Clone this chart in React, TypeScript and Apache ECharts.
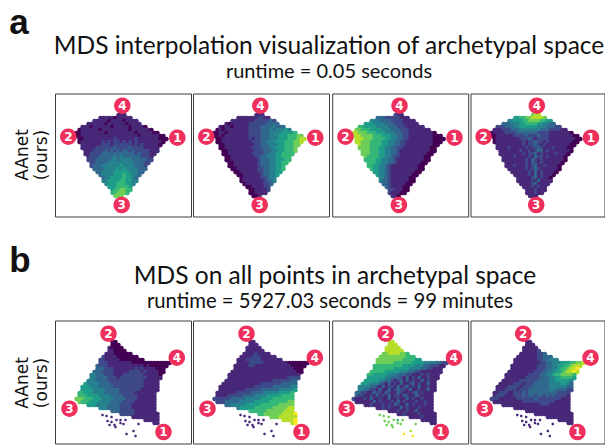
import React, { useEffect, useRef } from "react";
import * as echarts from "echarts";

const viridis = ["#440154", "#482878", "#3e4989", "#31688e", "#26828e", "#1f9e89", "#35b779", "#6ece58", "#b5de2b", "#fde725"];

// Colour level (0-9), one string per row of cells, in a raster of each panel.
const startsA = [14, 8, 6, 4, 2, 1, 0, 0, 1, 1, 2, 2, 3, 3, 4, 4, 5, 5, 6, 7, 8, 9, 9, 10, 11, 12, 12, 13];
const startsB = [13, 13, 12, 12, 11, 10, 9, 9, 8, 8, 7, 6, 6, 5, 4, 3, 3, 2, 2, 1, 2, 5, 9, 13, 16, 20, 24, 27];

const a1 = ["111", "11111011111", "111110111101111", "111111011111101111", "1110111111011111011110", "0111111011111111101111110", "0011111111011111111101111100", "001111111111111111111011111100", "001111111111211111121111111000", "01111111212122121212111111110", "111111122212222221212111110", "11111222222322223222211111", "1112222323232332322222111", "112222333333333332322211", "1222333334343333332221", "2223333344344443333322", "22333344444444433322", "2333444444544443332", "333344445454444333", "3344445555544433", "34444555655443", "344555565543", "445555665544", "4555666554", "55566665", "5667766", "667776", "777"];
const a2 = ["111", "11111112211", "111111112222232", "101111112222223333", "1011011111222233334333", "0101111111122223334344454", "0011011111112222333444455556", "001011111111222233344455566677", "001111111112122333444555666788", "00111111111122233444555666778", "001111111111223334445566677", "00111111111222333445556667", "0011111111122233344556667", "001111111122223344556666", "0011111111223344455666", "0011111111123334455566", "00111111112333445566", "0011111111233344556", "001111111223344556", "0011111122334455", "00111111233445", "011111122344", "011111112334", "0111111223", "00111122", "0011112", "001111", "001"];
const a3 = ["211", "33322222111", "444333322221111", "555444433322211111", "6655554444333222111111", "7766655554443332221111111", "8877766655544433322111111110", "888777766655544332211111111000", "888777666655443322111111110000", "88777666655443322111111111000", "877766665544332211111111100", "77776665544332211111111100", "7776665544332111111111100", "777666554433211111111100", "7666655443221111111100", "6666554433211111111100", "66655443321111111100", "6655443211111111100", "655443211111111100", "5544321111111100", "54432111111100", "443211111100", "433211111100", "3321111100", "32111100", "2211100", "211100", "110"];
const a4 = ["788", "55667788887", "445556677776655", "333444556666554433", "2223334455555544433322", "1112223334444444333222211", "0111122223333333222211111110", "001111112222322232221111111100", "011111111222321222211111111100", "01111111112122322121111111100", "111111111212232121111111100", "11112111112122321112111100", "1111111211212331211111110", "111111112122312111121110", "1111211112132212111110", "1111111121321211111110", "11111112132121111110", "1112111212311211110", "111111212321111110", "1111112131211110", "11111213121110", "111112312110", "111112131111", "1111231111", "11121211", "1112111", "111211", "111"];

const b1 = ["00", "000", "10000", "110000", "111000000", "211110000000", "221111100000000", "222111111110000000000000", "322211111111111101000000", "33322211111112121111000", "333222211111222212111100", "443332221112222222111110", "443333222122222222211111", "444333322222222222211111", "5444433332222222222211111", "55544433333222222222211111", "55554444333332222222111111", "66555444433333222221111111", "66655554444333322222111111", "777666555444433332222111111", "76665554444333322221111111", "55544443333222211111111", "4443333222211111111", "333222221111111", "2222211111111", "111111111", "11111", "11"];
const b2 = ["11", "111", "11111", "111111", "111121111", "111122211111", "111222221111111", "111122222111111110000000", "111112211111111111100000", "11111111111111111111000", "111111111111111111111100", "111111111111111111111111", "111111111111111111112222", "111111111111111122222233", "1111111111111222222233333", "11111111111122222233333344", "11111111122222333333444445", "11111112222233334444455556", "11112222233334444555556666", "222222333334444455556666666", "22233333444445555566666677", "33444445555566666677777", "4555556666667777788", "666666777777888", "6677777788889", "777888888", "88889", "89"];
const b3 = ["88", "888", "88888", "888888", "778888776", "777777777666", "777777777666655", "777777666666555544443322", "666666666655554443322211", "66666665555544443322111", "666665555544433221111111", "665555544433322111212111", "555555443332131213112111", "555554433212313121131211", "5554443213121311231211311", "44443321312213123121311211", "44332213113123221311211311", "33221132213211321112312111", "32211213121312213211321111", "211121311211311211312112111", "11111131211121312111211211", "11211121213211312111211", "1121211131211121111", "111211211311111", "1121111211111", "111121111", "11111", "11"];
const b4 = ["11", "111", "11111", "111112", "111111223", "111111122333", "111111112233444", "111111111223344455566778", "111111111222334455667888", "11111111122233445667889", "111111111222334455678898", "111111112222334456677776", "111111122222333445566665", "111111222222333344555554", "1111122212223333344445543", "11112222122233333344444433", "11122221222333333344333322", "11222112223233333333332222", "12221112223233233232322221", "222111111222222322222222111", "11111111112222222222211111", "11111111111112221111111", "1111111111111111111", "111111111111111", "1111111111111", "111111111", "11111", "11"];

// Isolated points under the lower row's main cloud, with their level per panel.
const strayX = [47, 51, 56, 52, 56, 61, 65, 70, 59, 60, 68, 83, 54, 78, 71, 80, 65];
const strayY = [94, 95, 96, 100, 101, 99, 99, 99, 104, 106, 103, 103, 104, 110, 113, 115, 102];
const strayB1 = [1, 1, 1, 1, 1, 1, 1, 1, 1, 1, 1, 1, 1, 1, 1, 1, 1];
const strayB2 = [1, 1, 1, 1, 1, 1, 1, 1, 1, 1, 1, 1, 1, 1, 1, 1, 1];
const strayB3 = [7, 7, 7, 7, 7, 7, 6, 7, 7, 7, 7, 7, 7, 8, 9, 9, 7];
const strayB4 = [1, 1, 1, 1, 1, 1, 1, 1, 1, 1, 1, 1, 1, 1, 1, 1, 1];

const badgeNames = ["1", "2", "3", "4"];
const badgeAx = [121.8, 12.8, 66.2, 66.8];
const badgeAy = [43.7, 42.7, 111, 11.7];
const badgeBx = [108, 53, 14, 121.3];
const badgeBy = [111, 12.7, 87.7, 36.7];

const panelLefts = [55.5, 193.5, 332.7, 471];

function cells(rows: string[], starts: number[], x0: number) {
  const out: number[][] = [];
  rows.forEach((row, i) => {
    row.split("").forEach((c, j) => {
      out.push([x0 + 3 * (starts[i] + j), 21 + 3 * i, Number(c)]);
    });
  });
  return out;
}

function buildOption() {
  const grid: any[] = [];
  const xAxis: any[] = [];
  const yAxis: any[] = [];
  const series: any[] = [];
  const colored: number[] = [];

  const addPanel = (top: number, col: number, rows: string[], starts: number[], x0: number, bx: number[], by: number[], stray?: number[]) => {
    const idx = grid.length;
    grid.push({ show: true, left: panelLefts[col], top, width: 136, height: 123, borderColor: "#3c3c3c", borderWidth: 1, backgroundColor: "#fff", containLabel: false });
    xAxis.push({ type: "value", gridIndex: idx, min: 0, max: 136, show: false });
    yAxis.push({ type: "value", gridIndex: idx, min: 0, max: 123, inverse: true, show: false });
    colored.push(series.length);
    series.push({ type: "scatter", xAxisIndex: idx, yAxisIndex: idx, symbol: "circle", symbolSize: 4.5, silent: true, itemStyle: { opacity: 1 }, data: cells(rows, starts, x0), z: 2 });
    if (stray) {
      colored.push(series.length);
      series.push({ type: "scatter", xAxisIndex: idx, yAxisIndex: idx, symbol: "circle", symbolSize: 2.6, silent: true, itemStyle: { opacity: 1 }, data: strayX.map((x, i) => [x, strayY[i], stray[i]]), z: 2 });
    }
    series.push({
      type: "scatter", xAxisIndex: idx, yAxisIndex: idx, symbol: "circle", symbolSize: 16.5, silent: true, z: 5, clip: false,
      itemStyle: { color: "#ef2f5c", opacity: 1 },
      label: { show: true, position: "inside", formatter: "{b}", color: "#fff", fontFamily: "DejaVu Sans", fontWeight: "bold", fontSize: 12 },
      data: badgeNames.map((n, i) => ({ name: n, value: [bx[i], by[i]] })),
    });
  };

  [a1, a2, a3, a4].forEach((rows, c) => addPanel(94, c, rows, startsA, 21, badgeAx, badgeAy));
  [b1, b2, b3, b4].forEach((rows, c) => addPanel(321, c, rows, startsB, 18, badgeBx, badgeBy, [strayB1, strayB2, strayB3, strayB4][c]));

  const head = "Lato";
  const text = (t: string, x: number, y: number, size: number, family = head, weight = "normal", rotation = 0) => ({
    type: "text", x, y, rotation, z: 10,
    style: { text: t, fontSize: size, fontFamily: family, fontWeight: weight, fill: "#111", align: "center", verticalAlign: "middle" },
  });

  return {
    animation: false,
    backgroundColor: "#fff",
    grid, xAxis, yAxis, series,
    visualMap: { show: false, type: "continuous", min: 0, max: 9, dimension: 2, seriesIndex: colored, inRange: { color: viridis } },
    graphic: [
      text("a", 19, 21, 35, "Liberation Sans", "bold"),
      text("b", 20, 259, 35, "Liberation Sans", "bold"),
      text("MDS interpolation visualization of archetypal space", 329, 44, 24.5),
      text("runtime = 0.05 seconds", 329, 70, 20),
      text("MDS on all points in archetypal space", 335, 274, 24.5),
      text("runtime = 5927.03 seconds = 99 minutes", 330, 300, 20.3),
      text("AAnet", 22, 155, 17, "DejaVu Sans", "normal", Math.PI / 2),
      text("(ours)", 41, 155, 17, "DejaVu Sans", "normal", Math.PI / 2),
      text("AAnet", 22, 383, 17, "DejaVu Sans", "normal", Math.PI / 2),
      text("(ours)", 41, 383, 17, "DejaVu Sans", "normal", Math.PI / 2),
    ],
  };
}

export default function App() {
  const ref = useRef<HTMLDivElement>(null);
  useEffect(() => {
    const chart = echarts.init(ref.current!, undefined, { renderer: "svg" });
    chart.setOption(buildOption() as any);
    return () => chart.dispose();
  }, []);
  return <div ref={ref} style={{ position: "absolute", left: 0, top: 0, width: 605, height: 445 }} />;
}
